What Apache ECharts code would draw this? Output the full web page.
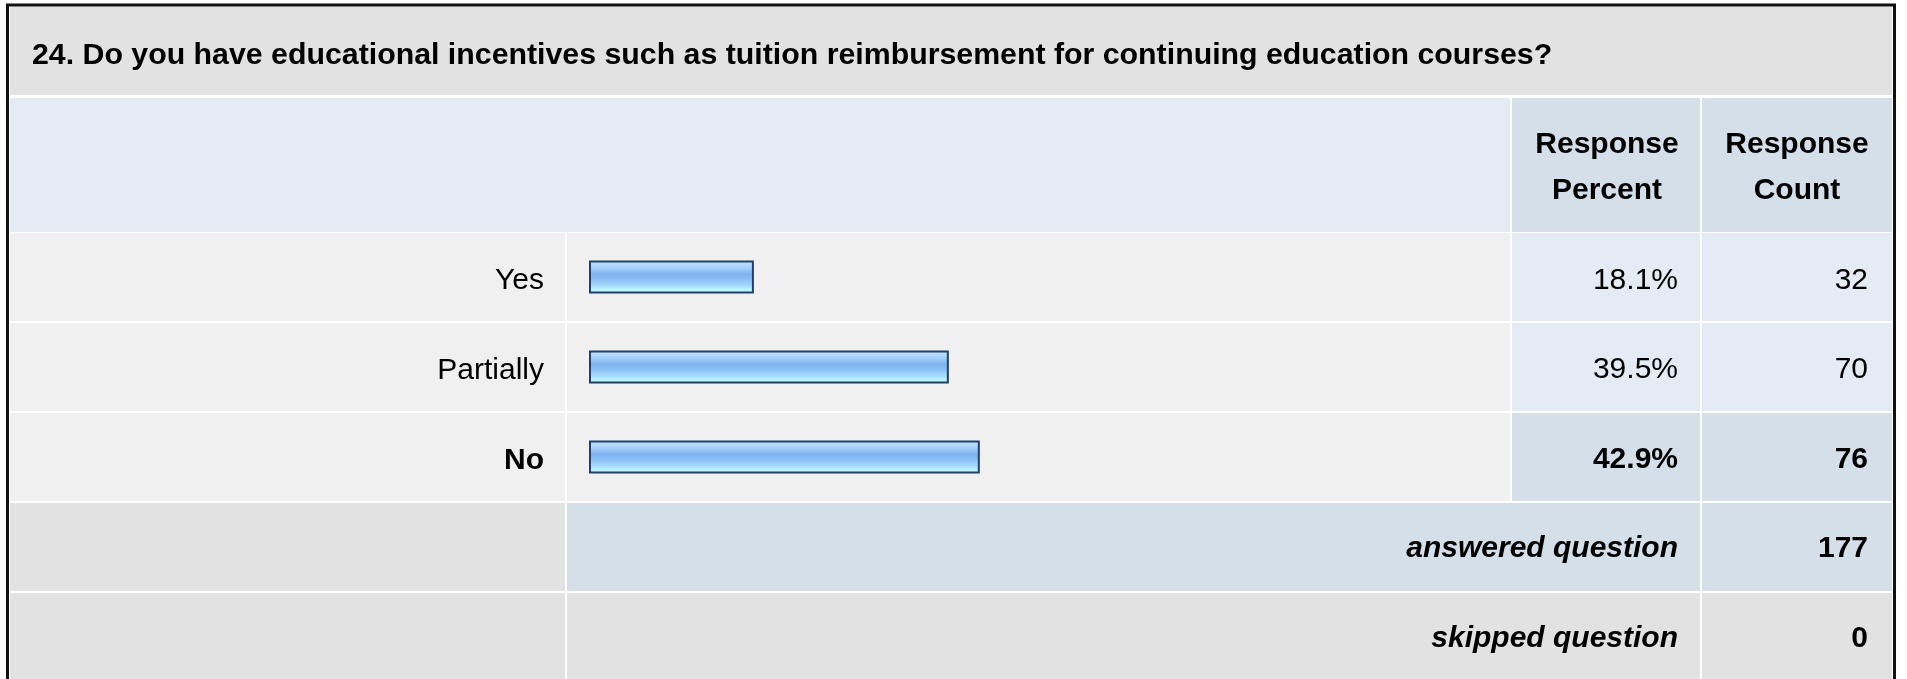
<!DOCTYPE html>
<html>
<head>
<meta charset="utf-8">
<script src="https://cdn.jsdelivr.net/npm/echarts@6/dist/echarts.min.js"></script>
<style>
  html, body { margin: 0; padding: 0; background: #ffffff; }
  #chart { width: 1907px; height: 679px; }
</style>
</head>
<body>
<div id="chart"></div>
<script>
// ---- data ----
const titleText = '24. Do you have educational incentives such as tuition reimbursement for continuing education courses?';
const categories = ['Yes', 'Partially', 'No'];
const percents = [18.1, 39.5, 42.9];
const counts = [32, 70, 76];
const columnHeaders = ['Response\nPercent', 'Response\nCount'];
const footerLabels = ['answered question', 'skipped question'];
const footerCounts = [177, 0];

// ---- styling / layout ----
const FONT = '"Liberation Sans", Arial, Helvetica, sans-serif';
const C_GRAY = '#e2e2e2';
const C_ROW = '#f0f0f0';
const C_BLUE1 = '#e4ebf5';
const C_BLUE2 = '#d5dfe9';

const maxIdx = percents.indexOf(Math.max(...percents));
const rowKeys = categories.concat(footerLabels);

const chart = echarts.init(document.getElementById('chart'), null, { renderer: 'canvas' });

// background cells (layout only)
const cells = [];
function cell(x, y, w, h, c) {
  cells.push({ type: 'rect', z: -10, silent: true, shape: { x, y, width: w, height: h }, style: { fill: c } });
}
const LX = 10, LW = 555, BX = 567, BW = 943, PX = 1512, PW = 188, CX = 1702, CW = 190;
cell(LX, 7, 1882, 88, C_GRAY);                       // title
cell(LX, 98, 1500, 134, C_BLUE1);                    // header left
cell(PX, 98, PW, 134, C_BLUE2);
cell(CX, 98, CW, 134, C_BLUE2);
categories.forEach((c, i) => {
  const y = 233 + 90 * i;
  cell(LX, y, LW, 88, C_ROW);
  cell(BX, y, BW, 88, C_ROW);
  const col = i === maxIdx ? C_BLUE2 : C_BLUE1;
  cell(PX, y, PW, 88, col);
  cell(CX, y, CW, 88, col);
});
// answered row
cell(LX, 503, LW, 88, C_GRAY);
cell(BX, 503, PX + PW - BX, 88, C_BLUE2);
cell(CX, 503, CW, 88, C_BLUE2);
// skipped row
cell(LX, 593, LW, 100, C_GRAY);
cell(BX, 593, PX + PW - BX, 100, C_GRAY);
cell(CX, 593, CW, 100, C_GRAY);
// outer frame
cells.push({ type: 'rect', z: -5, silent: true, shape: { x: 7.5, y: 5, width: 1887, height: 720 },
  style: { fill: null, stroke: '#111111', lineWidth: 3 } });

// label data for the numeric columns
const textData = [];
categories.forEach((c, i) => {
  const bold = i === maxIdx ? 'bold' : 'normal';
  textData.push({ value: [0, i, percents[i].toFixed(1) + '%'], label: { fontWeight: bold } });
  textData.push({ value: [1, i, String(counts[i])], label: { fontWeight: bold } });
});
footerLabels.forEach((f, j) => {
  const i = categories.length + j;
  textData.push({ value: [0, i, f], label: { fontWeight: 'bold', fontStyle: 'italic' } });
  textData.push({ value: [1, i, String(footerCounts[j])], label: { fontWeight: 'bold' } });
});

const option = {
  animation: false,
  backgroundColor: '#ffffff',
  title: {
    text: titleText,
    left: 32, top: 41, padding: 0,
    textStyle: { fontFamily: FONT, fontSize: 30.3, fontWeight: 'bold', color: '#000', lineHeight: 30 }
  },
  graphic: { elements: cells },
  grid: [
    { left: 589, top: 232, width: 911, height: 270 },
    { left: 1512, top: 232, width: 380, height: 450 }
  ],
  xAxis: [
    { gridIndex: 0, type: 'value', min: 0, max: 100, show: false, splitLine: { show: false } },
    { gridIndex: 1, type: 'category', data: columnHeaders, position: 'top',
      axisLine: { show: false }, axisTick: { show: false },
      axisLabel: { margin: 18, fontFamily: FONT, fontSize: 30, fontWeight: 'bold', color: '#000', lineHeight: 46, align: 'center' } }
  ],
  yAxis: [
    { gridIndex: 0, type: 'category', data: categories, inverse: true,
      axisLine: { show: false }, axisTick: { show: false }, splitLine: { show: false },
      axisLabel: {
        margin: 45, fontFamily: FONT, fontSize: 30, color: '#000', padding: [7, 0, 0, 0],
        formatter: (v, idx) => idx === maxIdx ? '{b|' + v + '}' : v,
        rich: { b: { fontFamily: FONT, fontSize: 30, fontWeight: 'bold', color: '#000' } }
      } },
    { gridIndex: 1, type: 'category', data: rowKeys, inverse: true, show: false }
  ],
  series: [
    {
      type: 'bar', xAxisIndex: 0, yAxisIndex: 0,
      data: percents, barWidth: 33,
      itemStyle: {
        borderColor: '#1f4068', borderWidth: 2,
        color: new echarts.graphic.LinearGradient(0, 0, 0, 1, [
          { offset: 0, color: '#c8e6ff' },
          { offset: 0.2, color: '#a9d3fc' },
          { offset: 0.42, color: '#7fb3ef' },
          { offset: 0.55, color: '#88bdf4' },
          { offset: 0.75, color: '#a4d8fc' },
          { offset: 0.88, color: '#baf2ff' },
          { offset: 1, color: '#c8ffff' }
        ])
      }
    },
    {
      type: 'scatter', xAxisIndex: 1, yAxisIndex: 1,
      symbolSize: 1, itemStyle: { color: 'rgba(0,0,0,0)', opacity: 1 },
      data: textData,
      label: {
        show: true, position: 'inside', align: 'right', verticalAlign: 'middle',
        offset: [71, 4], fontFamily: FONT, fontSize: 30, color: '#000', opacity: 1,
        formatter: p => p.value[2]
      }
    }
  ]
};
chart.setOption(option);
</script>
</body>
</html>
